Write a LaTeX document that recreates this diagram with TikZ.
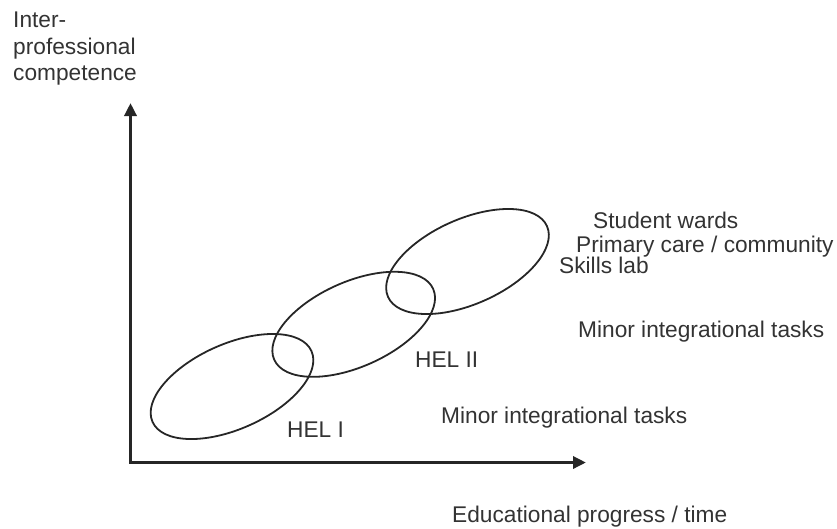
\documentclass[tikz,border=0pt]{standalone}
\usepackage{fontspec}
\setmainfont{Liberation Sans}
\usetikzlibrary{arrows.meta}

\begin{document}
\begin{tikzpicture}[x=1pt, y=-1pt,
        axis/.style = {line width=3.5pt, color=black!85, line join=miter,
            {Triangle[length=13pt, width=12pt]}-{Triangle[length=13pt, width=12pt]}},
        hel/.style = {line width=1.8pt, color=black!85},
        lbl/.style = {anchor=base west, inner sep=0pt, text=black!80,
            font=\fontsize{22.7}{26.5}\selectfont}]
        \useasboundingbox (0, 0) rectangle (837, 528);

        % axes
        \coordinate (origin) at (130.5, 462.5);
        \coordinate (ytip) at (130.5, 103);
        \coordinate (xtip) at (586, 462.5);
        \draw[axis] (ytip) -- (origin) -- (xtip);

        \node[lbl, anchor=north west, align=left] (ylabel) at (13, 11.7)
            {Inter-\\professional\\competence};
        \node[lbl] (xlabel) at (452, 522) {Educational progress / time};

        % the three learning stages
        \coordinate (hel1) at (232, 386.5);
        \coordinate (hel2) at (353.7, 324.3);
        \coordinate (hel3) at (467.5, 261.5);
        \draw[hel] (hel1) ellipse [x radius=87, y radius=42.5, rotate=24];
        \draw[hel] (hel2) ellipse [x radius=87, y radius=42.5, rotate=24];
        \draw[hel] (hel3) ellipse [x radius=87, y radius=42.5, rotate=24];

        \node[lbl] (heli) at (287, 437) {HEL I};
        \node[lbl] (helii) at (415, 367) {HEL II};

        \node[lbl] (tasks1) at (441, 423) {Minor integrational tasks};
        \node[lbl] (tasks2) at (578, 337) {Minor integrational tasks};
        \node[lbl] (skills) at (559, 273) {Skills lab};
        \node[lbl] (primary) at (576, 252) {Primary care / community};
        \node[lbl] (wards) at (593, 228) {Student wards};
    \end{tikzpicture}
\end{document}
